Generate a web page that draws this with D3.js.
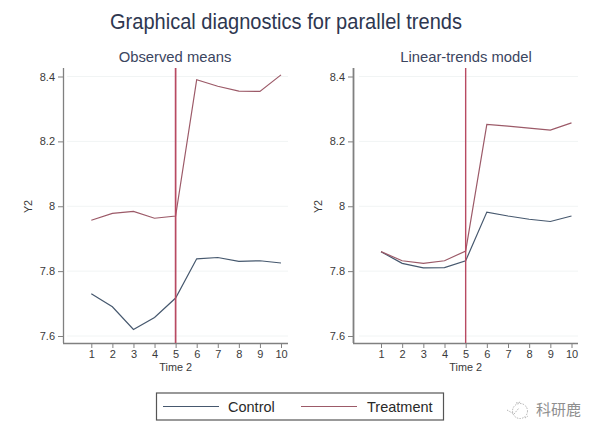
<!DOCTYPE html>
<html><head><meta charset="utf-8">
<script src="https://cdnjs.cloudflare.com/ajax/libs/d3/7.8.5/d3.min.js"></script>
<style>html,body{margin:0;padding:0;background:#fff}svg{display:block}text{font-family:"Liberation Sans",Arial,sans-serif}</style>
</head><body><svg id="c" width="600" height="436"></svg>
<script>
const times=[1,2,3,4,5,6,7,8,9,10];
const yTicks=[7.6,7.8,8,8.2,8.4];
const obsControl=[7.73,7.69,7.62,7.657,7.717,7.838,7.842,7.83,7.832,7.825];
const obsTreatment=[7.957,7.978,7.984,7.963,7.97,8.39,8.37,8.355,8.354,8.405];
const ltControl=[7.86,7.824,7.81,7.811,7.832,7.982,7.97,7.96,7.953,7.97];
const ltTreatment=[7.86,7.832,7.824,7.832,7.862,8.252,8.247,8.241,8.235,8.257];
const treatTime=5;
const panelTitles=["Observed means","Linear-trends model"];
const mainTitle="Graphical diagnostics for parallel trends";
const legendLabels=["Control","Treatment"];
const xLabel="Time 2", yLabel="Y2";
const navy="#46586e", maroon="#9c5a68", vline="#b84a62", axisC="#808080", grid="#f1f4f4", txt="#3a3a3a";
const svg=d3.select("#c");
svg.append("text").attr("x",286).attr("y",29).attr("text-anchor","middle").attr("font-size",21.5).attr("textLength",352).attr("lengthAdjust","spacingAndGlyphs").attr("fill","#2e3750").text(mainTitle);
function panel(left,right,x1,x10,title,tx,ctl,trt,axisW,vW){
  const top=68,bottom=343;
  const xs=d3.scaleLinear().domain([1,10]).range([x1,x10]);
  const ys=d3.scaleLinear().domain([7.6,8.4]).range([336,76.5]);
  const g=svg.append("g");
  g.append("text").attr("x",tx).attr("y",62).attr("text-anchor","middle").attr("font-size",14.8).attr("fill","#3b4560").text(title);
  g.selectAll("line.g").data(yTicks).join("line").attr("class","g").attr("x1",left+(left>300?6:4)).attr("x2",right).attr("y1",ys).attr("y2",ys).attr("stroke",grid).attr("stroke-width",1);
  const ya=g.append("g").attr("transform",`translate(${left},0)`).call(d3.axisLeft(ys).tickValues(yTicks).tickFormat(d3.format("~g")).tickSize(5).tickPadding(3));
  ya.select(".domain").attr("d",`M0.5,${top}V${bottom}`).attr("stroke",axisC).attr("stroke-width",axisW);
  const xa=g.append("g").attr("transform",`translate(0,${bottom})`).call(d3.axisBottom(xs).tickValues(times).tickFormat(d3.format("d")).tickSize(5).tickPadding(2));
  xa.select(".domain").attr("d",`M${left},0.5H${right}`).attr("stroke",axisC).attr("stroke-width",1.3);
  g.selectAll(".tick line").attr("stroke",axisC);
  g.selectAll(".tick text").attr("font-size",11).attr("fill",txt).style("font-family",'"Liberation Sans",Arial,sans-serif');
  g.append("text").attr("x",xs(5)).attr("y",371).attr("text-anchor","middle").attr("font-size",10.8).attr("fill",txt).text(xLabel);
  g.append("text").attr("transform",`translate(${left-31},206.5) rotate(-90)`).attr("text-anchor","middle").attr("font-size",10.8).attr("fill",txt).text(yLabel);
  const line=d3.line().x((d,i)=>xs(times[i])).y(d=>ys(d));
  g.append("path").attr("d",line(ctl)).attr("fill","none").attr("stroke",navy).attr("stroke-width",1.2);
  g.append("path").attr("d",line(trt)).attr("fill","none").attr("stroke",maroon).attr("stroke-width",1.2);
  g.append("line").attr("x1",xs(treatTime)).attr("x2",xs(treatTime)).attr("y1",top).attr("y2",bottom).attr("stroke",vline).attr("stroke-width",vW);
}
panel(63,288,91.3,281,panelTitles[0],175,obsControl,obsTreatment,1.3,1.7);
panel(353,578,381,571.5,panelTitles[1],466,ltControl,ltTreatment,1.8,1.4);
// legend
svg.append("rect").attr("x",156.5).attr("y",393).attr("width",287).attr("height",27).attr("fill","#fff").attr("stroke","#555").attr("stroke-width",1.2);
const lx=[[163,219,228,navy],[301,357,367,maroon]];
legendLabels.forEach((t,i)=>{
  svg.append("line").attr("x1",lx[i][0]).attr("x2",lx[i][1]).attr("y1",406.5).attr("y2",406.5).attr("stroke",lx[i][3]).attr("stroke-width",1.2);
  svg.append("text").attr("x",lx[i][2]).attr("y",412).attr("font-size",14.5).attr("fill","#2a2a2a").text(t);
});
// watermark
const wm=svg.append("g").attr("fill","none").attr("stroke","#a0a0a0").attr("stroke-width",0.8).attr("stroke-dasharray","1.5 1.2");
wm.append("circle").attr("cx",520).attr("cy",411).attr("r",7.5);
wm.append("path").attr("d","M507,410L514,414L519,408M516,403L521,402M525,418L528,416");
svg.append("text").attr("x",536).attr("y",415).attr("font-size",15).attr("fill","#8f8f8f").style("font-family",'"Noto Sans CJK SC"').text("科研鹿");
</script></body></html>
